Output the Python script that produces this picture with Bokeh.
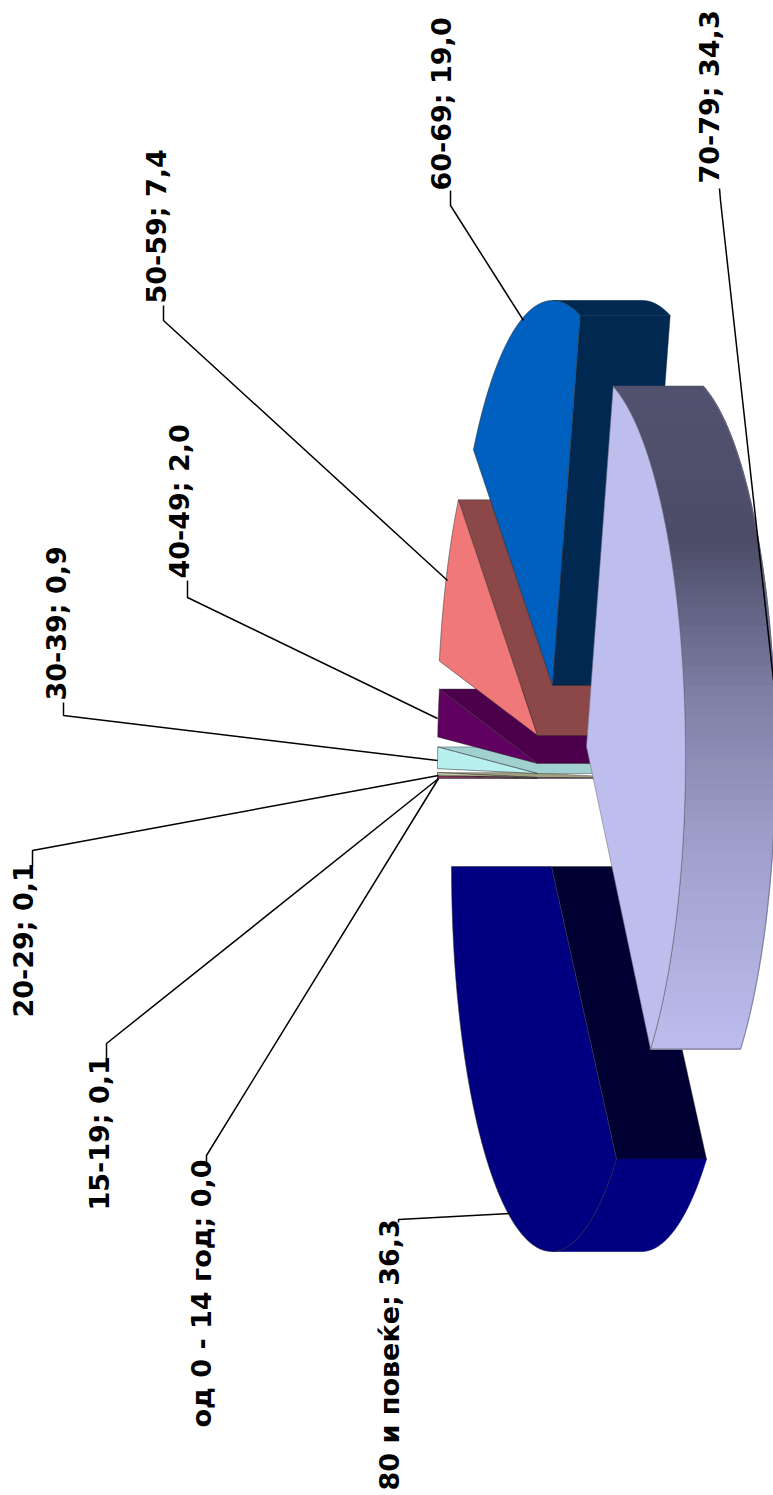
import numpy as np
from bokeh.plotting import figure
from bokeh.models import Range1d
from bokeh.core.properties import value
from bokeh.embed import file_html
from bokeh.resources import INLINE

categories = ["од 0 - 14 год", "15-19", "20-29", "30-39", "40-49", "50-59", "60-69", "70-79", "80 и повеќе"]
values = [0.0, 0.1, 0.1, 0.9, 2.0, 7.4, 19.0, 34.3, 36.3]
value_labels = ["0,0", "0,1", "0,1", "0,9", "2,0", "7,4", "19,0", "34,3", "36,3"]
top_colors = ["#9090F0", "#8C2F5E", "#D8D8A8", "#B8F0F0", "#600060", "#F07878", "#0060C0", "#BDBDEE", "#000080"]
side_colors = ["#6060A0", "#602040", "#A0A080", "#A0D0D0", "#4C004C", "#8C4848", "#002850", "#505070", "#000033"]

# projection layout of the rotated, tilted pie
RX, RY, DEPTH = 100.0, 385.0, 90.0
START_DEG = 180.0
centers = {0: (537, 778), 1: (537, 778), 2: (537, 777), 3: (537, 773), 4: (537, 763),
           5: (537, 735), 6: (552, 685), 7: (585, 756), 8: (551, 866)}
apex = {7: (586, 746)}
draw_order = [0, 1, 2, 3, 4, 5, 6, 8, 7]

# label anchors: baseline x, start y; leader polyline
label_pos = {0: (201, 1427), 1: (99, 1210), 2: (23, 1017), 3: (56, 700), 4: (179, 578),
             5: (156, 303), 6: (441, 190), 7: (709, 183), 8: (389, 1490)}
leaders = {0: ([206, 206, 438], [1167, 1155, 778]),
           1: ([106, 106, 438], [1058, 1043, 778]),
           2: ([32, 32, 438], [866, 850, 775]),
           3: ([63, 63, 437], [702, 715, 760]),
           4: ([187, 187, 437], [580, 597, 718]),
           5: ([163, 163, 447], [305, 320, 580]),
           6: ([450, 450, 523], [190, 205, 320]),
           7: ([719, 720, 773], [188, 200, 680]),
           8: ([398, 398, 510], [1222, 1219, 1213])}

grad_y = [386, 540, 700, 850, 1050]
grad_rgb = [(0x52, 0x52, 0x70), (0x4C, 0x4C, 0x68), (0x80, 0x80, 0xA8), (0xA0, 0xA0, 0xCC), (0xBD, 0xBD, 0xEE)]

p = figure(width=773, height=1495, x_range=Range1d(0, 773), y_range=Range1d(1495, 0),
           toolbar_location=None, output_backend="svg", min_border=0,
           outline_line_color=None)
p.axis.visible = False
p.grid.visible = False

total = sum(values)
ends = np.cumsum(values) / total * 360.0


def slice_angles(i):
    a0 = START_DEG + (ends[i] - values[i] / total * 360.0)
    return a0, a0 + values[i] / total * 360.0


def rim(i, deg):
    cx, cy = centers[i]
    t = np.radians(deg)
    return cx + RX * np.cos(t), cy + RY * np.sin(t)


def hexc(rgb):
    return "#%02x%02x%02x" % tuple(int(round(c)) for c in rgb)


for i in draw_order:
    if values[i] <= 0:
        continue
    a0, a1 = slice_angles(i)
    cx, cy = centers[i]
    edge = dict(line_color="#303030", line_width=0.6, line_alpha=0.7)
    # cut faces that look towards the viewer
    for a, turn in ((a0, -90), (a1, 90)):
        if np.cos(np.radians(a + turn)) > 0.005:
            x, y = rim(i, a)
            p.patch([cx, x, x + DEPTH, cx + DEPTH], [cy, y, y, cy], fill_color=side_colors[i], **edge)
    # outer wall: only where it faces the viewer
    th = np.linspace(a0, a1, 240)
    xs, ys = rim(i, th)
    vis = np.cos(np.radians(th)) > 0
    if vis.any():
        xv, yv = xs[vis], ys[vis]
        if i == 7:
            for k in range(0, len(xv) - 1, 3):
                e = min(k + 3, len(xv) - 1)
                my = (yv[k] + yv[e]) / 2
                col = hexc([np.interp(my, grad_y, [c[n] for c in grad_rgb]) for n in range(3)])
                p.patch([xv[k], xv[e], xv[e] + DEPTH, xv[k] + DEPTH],
                        [yv[k], yv[e], yv[e], yv[k]],
                        fill_color=col, line_color=col, line_width=1.6)
            p.line(xv, yv, line_color="#505060", line_width=0.8)
            p.line(xv + DEPTH, yv, line_color="#707088", line_width=0.8)
            p.line([xv[-1], xv[-1] + DEPTH], [yv[-1], yv[-1]], line_color="#707080", line_width=1)
            p.line([xv[0], xv[0] + DEPTH], [yv[0], yv[0]], line_color="#505060", line_width=1)
        else:
            wall = top_colors[i] if i == 8 else side_colors[i]
            p.patch(np.r_[xv, (xv + DEPTH)[::-1]], np.r_[yv, yv[::-1]], fill_color=wall,
                    line_color=wall, line_width=0.6)
    # top face
    ax, ay = apex.get(i, (cx, cy))
    p.patch(np.r_[ax, xs], np.r_[ay, ys], fill_color=top_colors[i],
            line_color="#707080" if i == 7 else "#303030", line_width=0.7, line_alpha=0.8)

for i, (lx, ly) in leaders.items():
    p.line(lx, ly, line_color="black", line_width=1.5)

for i, (tx, ty) in label_pos.items():
    p.text([tx], [ty], text=[f"{categories[i]}; {value_labels[i]}"], angle=np.pi / 2,
           text_font=value("DejaVu Sans"), text_font_style="bold", text_font_size="27px",
           text_color="black", text_align="left", text_baseline="alphabetic")

open("out.html", "w").write(file_html(p, INLINE))
